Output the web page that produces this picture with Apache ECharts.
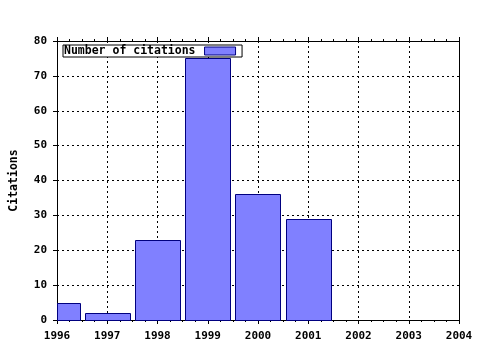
<!DOCTYPE html>
<html>
<head>
<meta charset="utf-8">
<script src="https://cdn.jsdelivr.net/npm/echarts@6/dist/echarts.min.js"></script>
<style>
html,body{margin:0;padding:0;background:#fff;}
#c{width:480px;height:350px;}
</style>
</head>
<body>
<div id="c"></div>
<script>
var years = [1996, 1997, 1998, 1999, 2000, 2001];
var citations = [5, 2, 23, 75, 36, 29];
var seriesName = 'Number of citations';
var yAxisTitle = 'Citations';

var FONT = 'DejaVu Sans Mono';
var chart = echarts.init(document.getElementById('c'), null, {renderer: 'canvas'});
var data = years.map(function (y, i) { return [y, citations[i]]; });

var gridLine = {show: true, lineStyle: {color: '#000', width: 1, type: [2, 3]}};
var labelStyle = {color: '#000', fontFamily: FONT, fontWeight: 'bold', fontSize: 11};

chart.setOption({
  animation: false,
  backgroundColor: '#fff',
  grid: {left: 57, right: 21, top: 41, bottom: 30, containLabel: false},
  legend: {
    show: true,
    left: 63, top: 45,
    align: 'right',
    orient: 'horizontal',
    backgroundColor: '#fff',
    borderColor: '#000',
    borderWidth: 1,
    borderRadius: 0,
    padding: [0, 6, 0, 1],
    itemWidth: 31, itemHeight: 8,
    textStyle: {color: '#000', fontFamily: FONT, fontWeight: 'bold', fontSize: 11.5, padding: [0, 4, 0, 0], lineHeight: 12},
    itemStyle: {color: '#8080ff', borderColor: '#00007f', borderWidth: 1},
    data: [{name: seriesName, icon: 'rect'}]
  },
  xAxis: [{
    type: 'value', min: 1996, max: 2004, interval: 1, position: 'bottom',
    axisLine: {show: true, onZero: false, lineStyle: {color: '#000', width: 1}},
    axisTick: {show: true, length: 4, lineStyle: {color: '#000'}},
    minorTick: {show: true, splitNumber: 4, length: 2, lineStyle: {color: '#000'}},
    axisLabel: Object.assign({margin: 11, formatter: function (v) { return String(v); }}, labelStyle),
    splitLine: gridLine
  }, {
    type: 'value', min: 1996, max: 2004, interval: 1, position: 'top',
    axisLine: {show: true, onZero: false, lineStyle: {color: '#000', width: 1}},
    axisTick: {show: true, length: 4, lineStyle: {color: '#000'}},
    minorTick: {show: true, splitNumber: 4, length: 2, lineStyle: {color: '#000'}},
    axisLabel: {show: false},
    splitLine: {show: false}
  }],
  yAxis: [{
    type: 'value', min: 0, max: 80, interval: 10,
    name: yAxisTitle, nameLocation: 'middle', nameRotate: 90, nameGap: 37,
    nameTextStyle: {color: '#000', fontFamily: FONT, fontWeight: 'bold', fontSize: 11.5},
    axisLine: {show: true, onZero: false, lineStyle: {color: '#000', width: 1}},
    axisTick: {show: true, length: 4, lineStyle: {color: '#000'}},
    axisLabel: Object.assign({margin: 10}, labelStyle),
    splitLine: gridLine
  }, {
    type: 'value', min: 0, max: 80, interval: 10, position: 'right',
    axisLine: {show: true, onZero: false, lineStyle: {color: '#000', width: 1}},
    axisTick: {show: true, inside: true, length: 2, lineStyle: {color: '#000'}},
    axisLabel: {show: false},
    splitLine: {show: false}
  }],
  series: [{
    type: 'custom',
    name: seriesName,
    xAxisIndex: 0, yAxisIndex: 0,
    itemStyle: {color: '#8080ff', borderColor: '#00007f', borderWidth: 1},
    renderItem: function (params, api) {
      var x = api.value(0), y = api.value(1);
      var p0 = api.coord([x - 0.45, y]);
      var p1 = api.coord([x + 0.45, 0]);
      var rect = echarts.graphic.clipRectByRect(
        {x: p0[0], y: p0[1], width: p1[0] - p0[0], height: p1[1] - p0[1]},
        {x: params.coordSys.x, y: params.coordSys.y, width: params.coordSys.width, height: params.coordSys.height}
      );
      if (!rect) return;
      rect.x = Math.round(rect.x) + 0.5;
      rect.y = Math.round(rect.y) + 0.5;
      rect.width = Math.round(rect.width);
      rect.height = Math.round(rect.height);
      return {
        type: 'rect',
        shape: rect,
        style: {fill: '#8080ff', stroke: '#00007f', lineWidth: 1}
      };
    },
    encode: {x: 0, y: 1},
    data: data,
    z: 1
  }]
});
</script>
</body>
</html>
